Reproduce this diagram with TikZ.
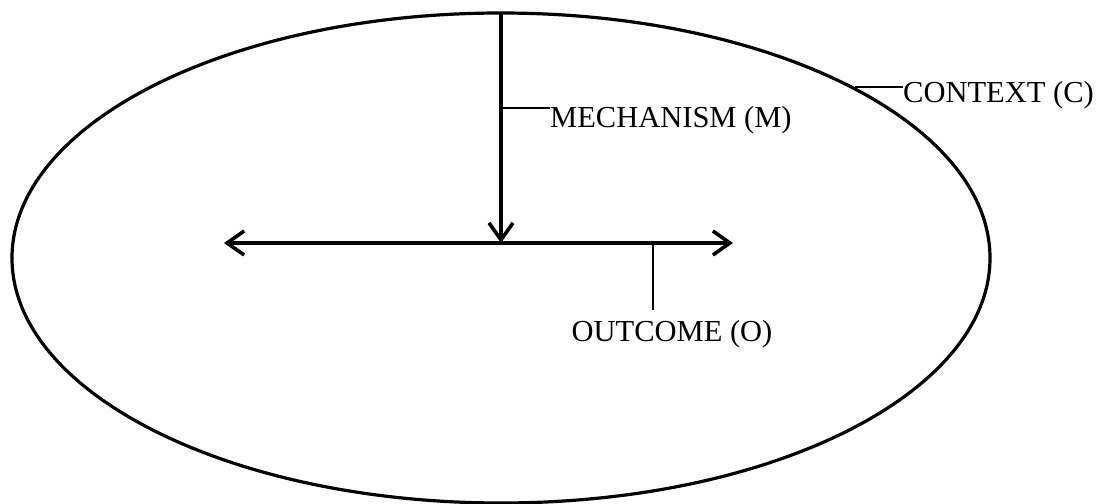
\documentclass[tikz,border=0pt]{standalone}
\usepackage{fontspec}
\setmainfont{Liberation Serif}
\usetikzlibrary{arrows.meta,shapes.geometric}
\begin{document}
\begin{tikzpicture}[x=1pt,y=-1pt,
  lbl/.style={inner sep=0pt,font=\fontsize{30.5pt}{32pt}\selectfont},
  barb/.tip={Straight Barb[length=17pt,width=24pt,line width=3.6pt]},
  bigarrow/.style={line width=3.6pt},
  leader/.style={line width=1.6pt}]
\useasboundingbox (0,0) rectangle (1110,503);
\fill[white] (0,0) rectangle (1110,503);
% context ellipse
\node[draw,line width=3.2pt,ellipse,minimum width=978pt,minimum height=490pt,inner sep=0pt] (ctxell) at (501,258) {};
% arrows
\coordinate (mtop) at (501,13);
\coordinate (mbot) at (501,243);
\coordinate (oleft) at (224,243);
\coordinate (oright) at (733,243);
\draw[bigarrow,-barb] (mtop) -- (mbot);
\draw[bigarrow,barb-barb] (oleft) -- (oright);
% labels
\node[lbl,anchor=base west] (mech) at (550,127) {MECHANISM (M)};
\node[lbl,anchor=base west] (ctx) at (903,102) {CONTEXT (C)};
\node[lbl,anchor=base] (out) at (672,341) {OUTCOME (O)};
% leaders
\coordinate (mlead) at (501,108);
\coordinate (mleadend) at (550,108);
\draw[leader] (mlead) -- (mleadend);
\coordinate (clead) at (855,87);
\coordinate (cleadend) at (903,87);
\draw[leader] (clead) -- (cleadend);
\coordinate (olead) at (653,243);
\coordinate (oleadend) at (653,310);
\draw[leader] (olead) -- (oleadend);
\end{tikzpicture}
\end{document}
